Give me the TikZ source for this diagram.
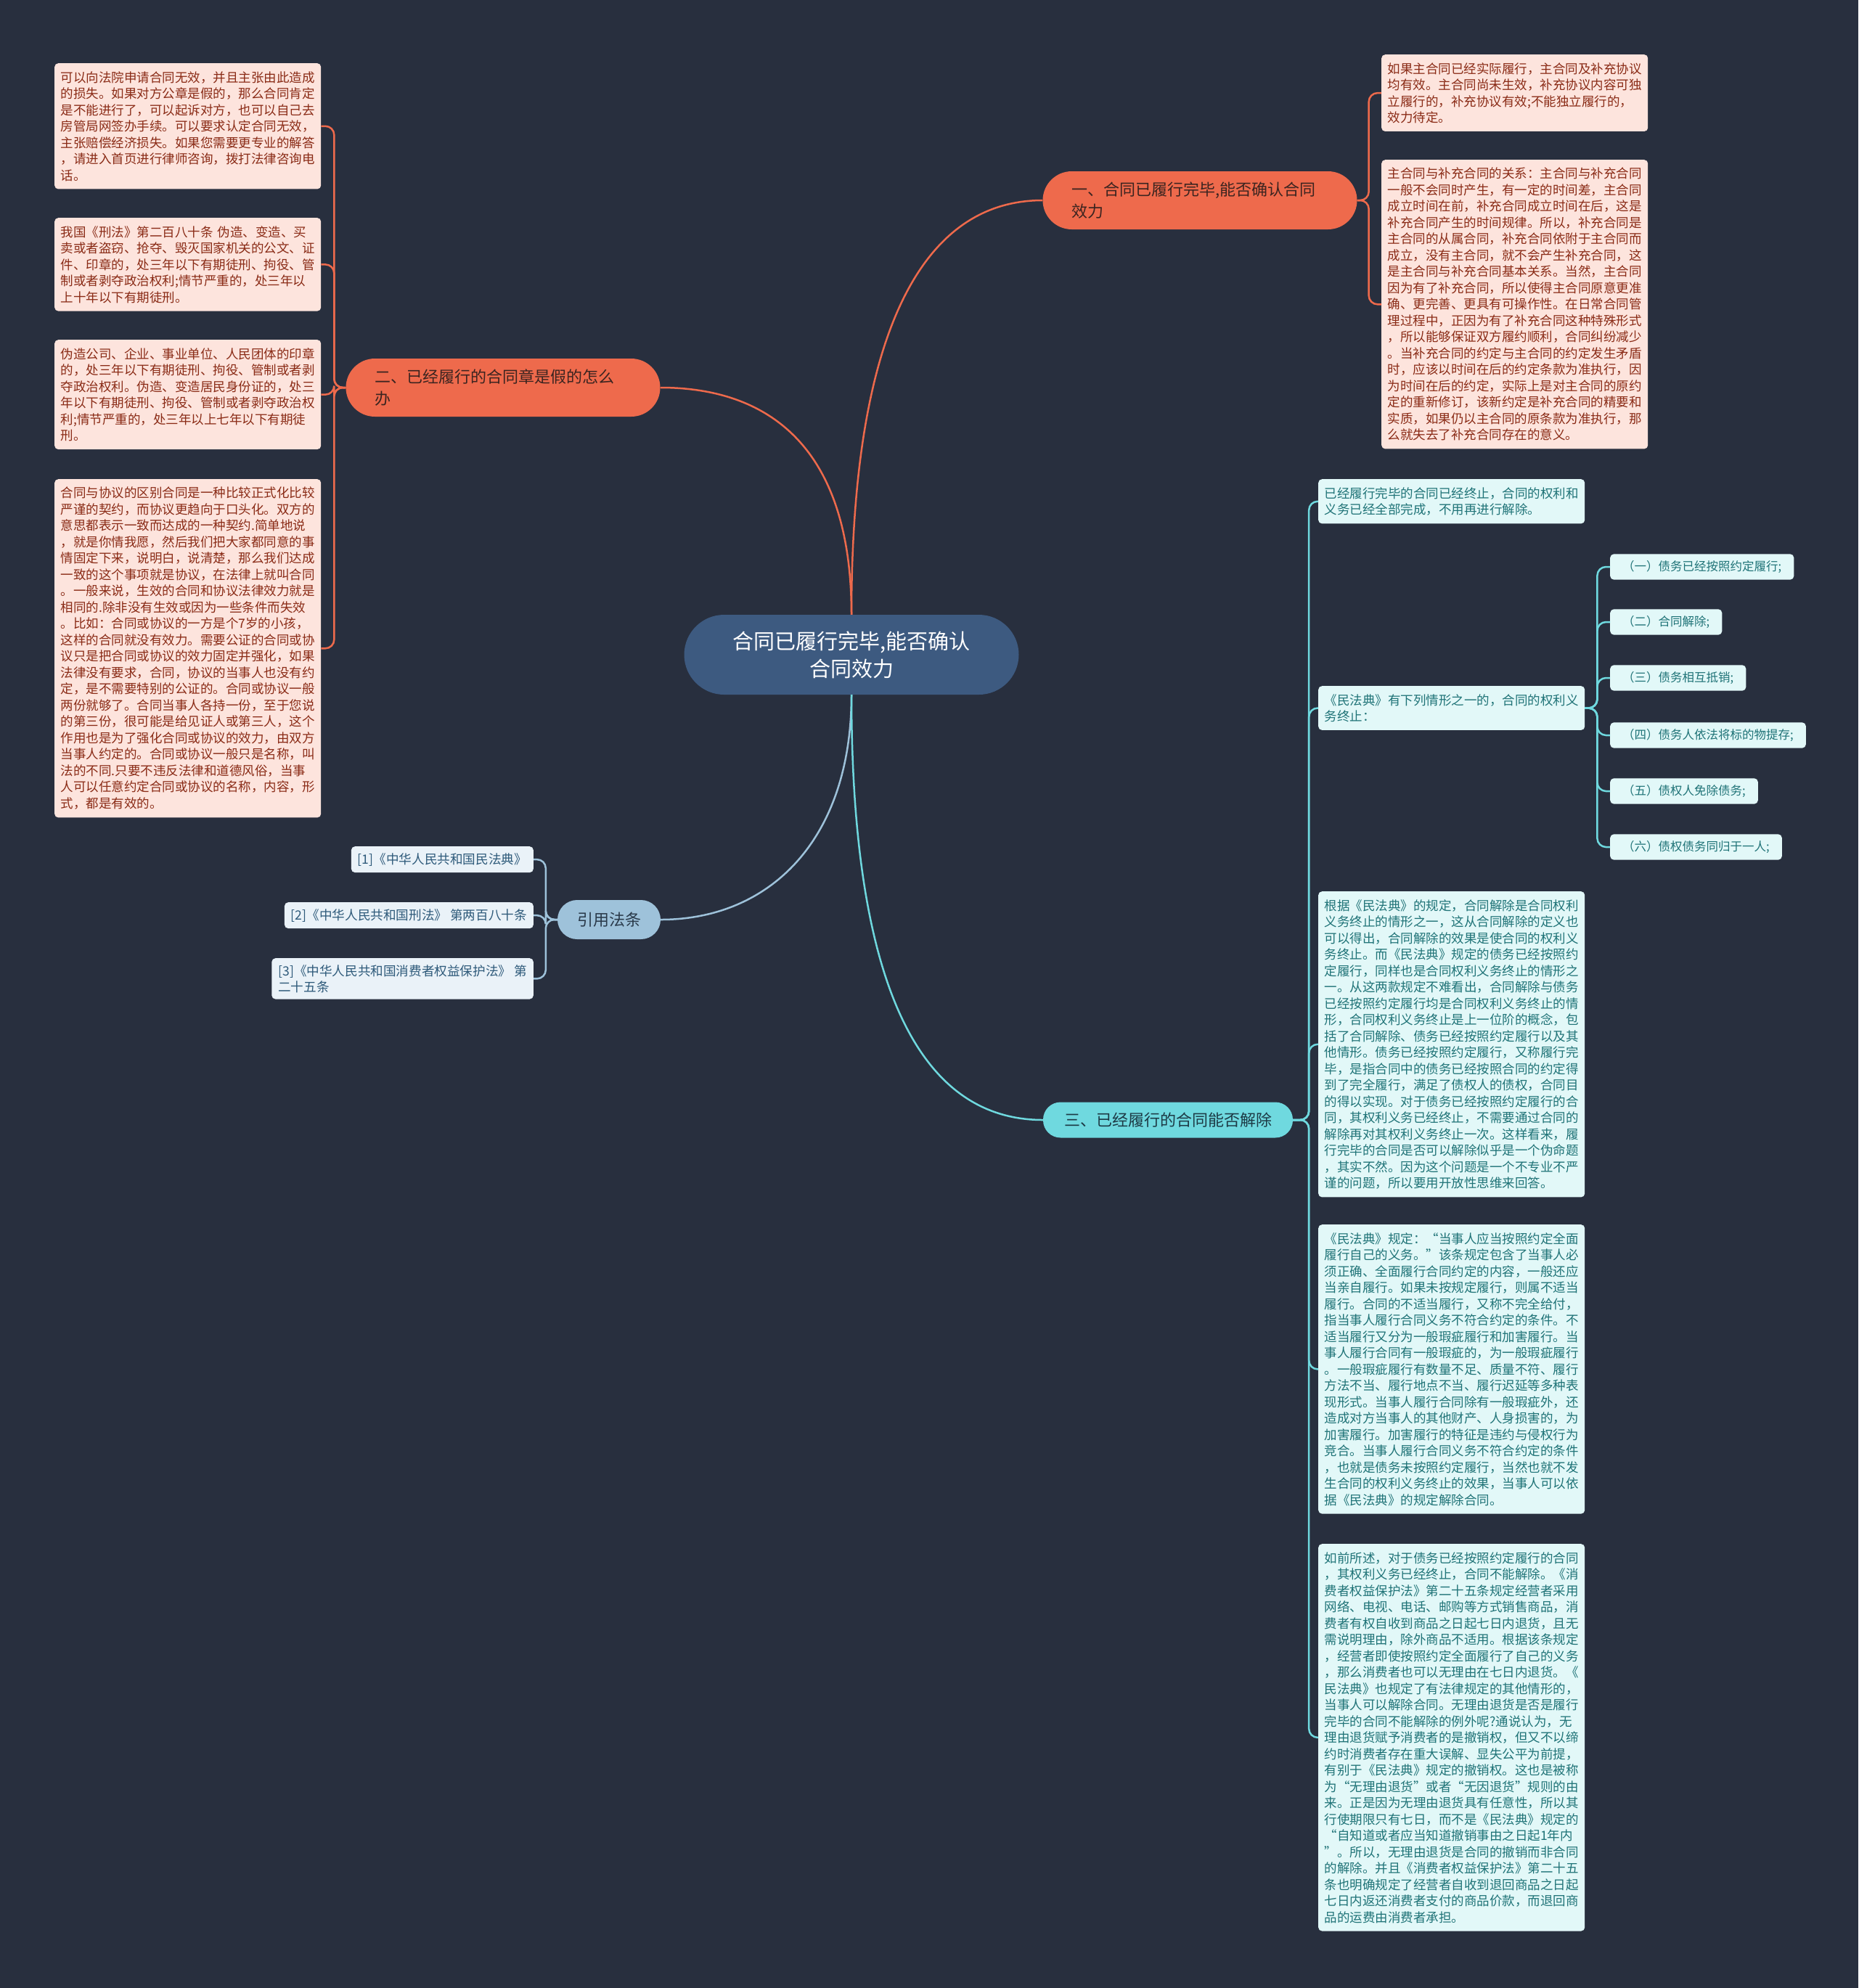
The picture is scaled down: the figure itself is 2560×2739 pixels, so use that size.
\documentclass[tikz,border=0pt]{standalone}
\usepackage{fontspec}
\setmainfont{Noto Sans CJK SC}

\definecolor{bgcol}{HTML}{282F3E}
\definecolor{rootblue}{HTML}{3D5A80}
\definecolor{redtopic}{HTML}{EE6A4C}
\definecolor{redtext}{HTML}{3B2420}
\definecolor{rednotefill}{HTML}{FDE4DD}
\definecolor{rednotetext}{HTML}{8A2B16}
\definecolor{cyantopic}{HTML}{6FD9DF}
\definecolor{cyantext}{HTML}{1D3A45}
\definecolor{cyannotefill}{HTML}{E2F8F8}
\definecolor{cyannotetext}{HTML}{1F7377}
\definecolor{bluetopic}{HTML}{9EC2DA}
\definecolor{bluetext}{HTML}{2A3A4A}
\definecolor{bluenotefill}{HTML}{EAF2F8}
\definecolor{bluenotetext}{HTML}{2E5A7A}

\tikzset{
  rootnode/.style={fill=rootblue, text=white, rounded corners=55pt, minimum width=461pt, minimum height=110pt, inner sep=0pt, align=center, font=\fontsize{29pt}{38pt}\selectfont},
  topicred/.style={fill=redtopic, text=redtext, rounded corners=40pt, minimum width=433pt, minimum height=80pt, inner sep=0pt, text width=353pt, align=left, font=\fontsize{22pt}{30pt}\selectfont},
  topiccyan/.style={fill=cyantopic, text=cyantext, rounded corners=24pt, minimum width=344pt, minimum height=49pt, inner sep=0pt, font=\fontsize{22pt}{30pt}\selectfont},
  topicblue/.style={fill=bluetopic, text=bluetext, rounded corners=27pt, minimum width=142pt, minimum height=54pt, inner sep=0pt, font=\fontsize{22pt}{30pt}\selectfont},
  notebox/.style={rounded corners=5pt, text width=350pt, inner xsep=8.5pt, inner ysep=11pt, align=left, anchor=north west, font=\fontsize{17.5pt}{22.5pt}\selectfont},
  rednote/.style={notebox, fill=rednotefill, text=rednotetext},
  cyannote/.style={notebox, fill=cyannotefill, text=cyannotetext},
  smallnote/.style={fill=cyannotefill, text=cyannotetext, rounded corners=5pt, inner xsep=17pt, inner ysep=9pt, anchor=west, font=\fontsize{16.5pt}{21pt}\selectfont},
  citenote/.style={fill=bluenotefill, text=bluenotetext, rounded corners=5pt, inner xsep=9pt, inner ysep=9pt, align=left, anchor=north east, font=\fontsize{17.6pt}{22pt}\selectfont},
  redline/.style={draw=redtopic, line width=2.5pt},
  cyanline/.style={draw=cyantopic, line width=2.5pt},
  blueline/.style={draw=bluetopic, line width=2.5pt}
}

\begin{document}
\begin{tikzpicture}[x=1pt, y=-1pt]
    % Background
    \fill[bgcol] (0,0) rectangle (2560,2739);
    \useasboundingbox (0,0) rectangle (2560,2739);

    % Root and main topics
    \node[rootnode] (root) at (1173,902) {合同已履行完毕,能否确认\\合同效力};
    \node[topicred] (b1) at (1653,276) {一、合同已履行完毕,能否确认合同\\效力};
    \node[topicred] (b2) at (693,534) {二、已经履行的合同章是假的怎么\\办};
    \node[topicblue] (b3) at (839,1267) {引用法条};
    \node[topiccyan] (b4) at (1609,1543) {三、已经履行的合同能否解除};

    % Notes of topic one
    \node[rednote] (a1) at (1903,75) {如果主合同已经实际履行，主合同及补充协议\\
均有效。主合同尚未生效，补充协议内容可独\\
立履行的，补充协议有效;不能独立履行的，\\
效力待定。};
    \node[rednote] (a2) at (1903,220) {主合同与补充合同的关系：主合同与补充合同\\
一般不会同时产生，有一定的时间差，主合同\\
成立时间在前，补充合同成立时间在后，这是\\
补充合同产生的时间规律。所以，补充合同是\\
主合同的从属合同，补充合同依附于主合同而\\
成立，没有主合同，就不会产生补充合同，这\\
是主合同与补充合同基本关系。当然，主合同\\
因为有了补充合同，所以使得主合同原意更准\\
确、更完善、更具有可操作性。在日常合同管\\
理过程中，正因为有了补充合同这种特殊形式\\
，所以能够保证双方履约顺利，合同纠纷减少\\
。当补充合同的约定与主合同的约定发生矛盾\\
时，应该以时间在后的约定条款为准执行，因\\
为时间在后的约定，实际上是对主合同的原约\\
定的重新修订，该新约定是补充合同的精要和\\
实质，如果仍以主合同的原条款为准执行，那\\
么就失去了补充合同存在的意义。};

    % Notes of topic two
    \node[rednote] (n1) at (75,87) {可以向法院申请合同无效，并且主张由此造成\\
的损失。如果对方公章是假的，那么合同肯定\\
是不能进行了，可以起诉对方，也可以自己去\\
房管局网签办手续。可以要求认定合同无效，\\
主张赔偿经济损失。如果您需要更专业的解答\\
，请进入首页进行律师咨询，拨打法律咨询电\\
话。};
    \node[rednote] (n2) at (75,300) {我国《刑法》第二百八十条 伪造、变造、买\\
卖或者盗窃、抢夺、毁灭国家机关的公文、证\\
件、印章的，处三年以下有期徒刑、拘役、管\\
制或者剥夺政治权利;情节严重的，处三年以\\
上十年以下有期徒刑。};
    \node[rednote] (n3) at (75,468) {伪造公司、企业、事业单位、人民团体的印章\\
的，处三年以下有期徒刑、拘役、管制或者剥\\
夺政治权利。伪造、变造居民身份证的，处三\\
年以下有期徒刑、拘役、管制或者剥夺政治权\\
利;情节严重的，处三年以上七年以下有期徒\\
刑。};
    \node[rednote] (n4) at (75,660) {合同与协议的区别合同是一种比较正式化比较\\
严谨的契约，而协议更趋向于口头化。双方的\\
意思都表示一致而达成的一种契约.简单地说\\
，就是你情我愿，然后我们把大家都同意的事\\
情固定下来，说明白，说清楚，那么我们达成\\
一致的这个事项就是协议，在法律上就叫合同\\
。一般来说，生效的合同和协议法律效力就是\\
相同的.除非没有生效或因为一些条件而失效\\
。比如：合同或协议的一方是个7岁的小孩，\\
这样的合同就没有效力。需要公证的合同或协\\
议只是把合同或协议的效力固定并强化，如果\\
法律没有要求，合同，协议的当事人也没有约\\
定，是不需要特别的公证的。合同或协议一般\\
两份就够了。合同当事人各持一份，至于您说\\
的第三份，很可能是给见证人或第三人，这个\\
作用也是为了强化合同或协议的效力，由双方\\
当事人约定的。合同或协议一般只是名称，叫\\
法的不同.只要不违反法律和道德风俗，当事\\
人可以任意约定合同或协议的名称，内容，形\\
式，都是有效的。};

    % Cited laws
    \node[citenote] (c1) at (735,1166) {[1]《中华人民共和国民法典》};
    \node[citenote] (c2) at (735,1243) {[2]《中华人民共和国刑法》 第两百八十条};
    \node[citenote] (c3) at (735,1320) {[3]《中华人民共和国消费者权益保护法》 第\\二十五条};

    % Notes of topic three
    \node[cyannote] (d1) at (1816,660) {已经履行完毕的合同已经终止，合同的权利和\\
义务已经全部完成，不用再进行解除。};
    \node[cyannote] (d2) at (1816,945) {《民法典》有下列情形之一的，合同的权利义\\
务终止：};
    \node[smallnote] (e1) at (2218,781) {（一）债务已经按照约定履行;};
    \node[smallnote] (e2) at (2218,857) {（二）合同解除;};
    \node[smallnote] (e3) at (2218,934) {（三）债务相互抵销;};
    \node[smallnote] (e4) at (2218,1013) {（四）债务人依法将标的物提存;};
    \node[smallnote] (e5) at (2218,1090) {（五）债权人免除债务;};
    \node[smallnote] (e6) at (2218,1167) {（六）债权债务同归于一人;};
    \node[cyannote] (d3) at (1816,1228) {根据《民法典》的规定，合同解除是合同权利\\
义务终止的情形之一，这从合同解除的定义也\\
可以得出，合同解除的效果是使合同的权利义\\
务终止。而《民法典》规定的债务已经按照约\\
定履行，同样也是合同权利义务终止的情形之\\
一。从这两款规定不难看出，合同解除与债务\\
已经按照约定履行均是合同权利义务终止的情\\
形，合同权利义务终止是上一位阶的概念，包\\
括了合同解除、债务已经按照约定履行以及其\\
他情形。债务已经按照约定履行，又称履行完\\
毕，是指合同中的债务已经按照合同的约定得\\
到了完全履行，满足了债权人的债权，合同目\\
的得以实现。对于债务已经按照约定履行的合\\
同，其权利义务已经终止，不需要通过合同的\\
解除再对其权利义务终止一次。这样看来，履\\
行完毕的合同是否可以解除似乎是一个伪命题\\
，其实不然。因为这个问题是一个不专业不严\\
谨的问题，所以要用开放性思维来回答。};
    \node[cyannote] (d4) at (1816,1687) {《民法典》规定：“当事人应当按照约定全面\\
履行自己的义务。”该条规定包含了当事人必\\
须正确、全面履行合同约定的内容，一般还应\\
当亲自履行。如果未按规定履行，则属不适当\\
履行。合同的不适当履行，又称不完全给付，\\
指当事人履行合同义务不符合约定的条件。不\\
适当履行又分为一般瑕疵履行和加害履行。当\\
事人履行合同有一般瑕疵的，为一般瑕疵履行\\
。一般瑕疵履行有数量不足、质量不符、履行\\
方法不当、履行地点不当、履行迟延等多种表\\
现形式。当事人履行合同除有一般瑕疵外，还\\
造成对方当事人的其他财产、人身损害的，为\\
加害履行。加害履行的特征是违约与侵权行为\\
竞合。当事人履行合同义务不符合约定的条件\\
，也就是债务未按照约定履行，当然也就不发\\
生合同的权利义务终止的效果，当事人可以依\\
据《民法典》的规定解除合同。};
    \node[cyannote] (d5) at (1816,2127) {如前所述，对于债务已经按照约定履行的合同\\
，其权利义务已经终止，合同不能解除。《消\\
费者权益保护法》第二十五条规定经营者采用\\
网络、电视、电话、邮购等方式销售商品，消\\
费者有权自收到商品之日起七日内退货，且无\\
需说明理由，除外商品不适用。根据该条规定\\
，经营者即使按照约定全面履行了自己的义务\\
，那么消费者也可以无理由在七日内退货。《\\
民法典》也规定了有法律规定的其他情形的，\\
当事人可以解除合同。无理由退货是否是履行\\
完毕的合同不能解除的例外呢?通说认为，无\\
理由退货赋予消费者的是撤销权，但又不以缔\\
约时消费者存在重大误解、显失公平为前提，\\
有别于《民法典》规定的撤销权。这也是被称\\
为“无理由退货”或者“无因退货”规则的由\\
来。正是因为无理由退货具有任意性，所以其\\
行使期限只有七日，而不是《民法典》规定的\\
“自知道或者应当知道撤销事由之日起1年内\\
”。所以，无理由退货是合同的撤销而非合同\\
的解除。并且《消费者权益保护法》第二十五\\
条也明确规定了经营者自收到退回商品之日起\\
七日内返还消费者支付的商品价款，而退回商\\
品的运费由消费者承担。};

    % Root to main topics
    \draw[redline] (root.north) .. controls +(0,-380) and +(-170,0) .. (b1.west);
    \draw[redline] (root.north) .. controls +(0,-230) and +(150,0) .. (b2.east);
    \draw[blueline] (root.south) .. controls +(0,200) and +(150,0) .. (b3.east);
    \draw[cyanline] (root.south) .. controls +(0,400) and +(-170,0) .. (b4.west);

    % Topics to notes
    \foreach \n in {a1,a2}
        \draw[redline, rounded corners=12pt] (b1.east) -- ++(16,0) |- (\n.west);
    \foreach \n in {n1,n2,n3,n4}
        \draw[redline, rounded corners=12pt] (b2.west) -- ++(-16,0) |- (\n.east);
    \foreach \n in {c1,c2,c3}
        \draw[blueline, rounded corners=12pt] (b3.west) -- ++(-16,0) |- (\n.east);
    \foreach \n in {d1,d2,d3,d4,d5}
        \draw[cyanline, rounded corners=12pt] (b4.east) -- ++(22,0) |- (\n.west);
    \foreach \n in {e1,e2,e3,e4,e5,e6}
        \draw[cyanline, rounded corners=12pt] (d2.east) -- ++(17,0) |- (\n.west);

\end{tikzpicture}
\end{document}
